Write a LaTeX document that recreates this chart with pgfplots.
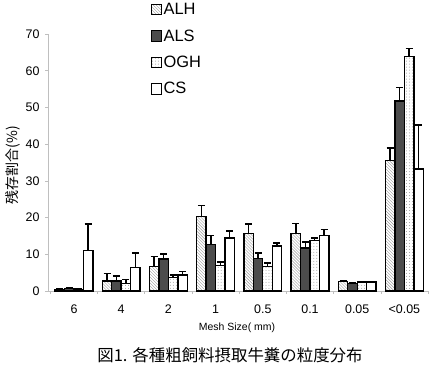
\documentclass[border=0pt]{standalone}
\usepackage{pgfplots}
\pgfplotsset{compat=1.18}
\usepackage{pgfplotstable}
\usepackage{fontspec}
\setmainfont{Liberation Sans}
\newfontfamily\jp{Noto Sans CJK JP}
\usetikzlibrary{patterns}

% x, value, error (upper)
\pgfplotstableread{
x v e
0 0.4 0.1
1 2.7 2.0
2 6.6 2.8
3 20.3 3.0
4 15.6 2.7
5 15.6 2.8
6 2.6 0.3
7 35.6 3.3
}\ALH
\pgfplotstableread{
x v e
0 0.6 0.4
1 2.7 1.4
2 8.7 1.4
3 12.7 2.4
4 8.8 1.5
5 11.7 1.6
6 2.0 0.2
7 51.8 3.6
}\ALS
\pgfplotstableread{
x v e
0 0.4 0.1
1 2.0 1.1
2 3.7 0.7
3 7.0 0.9
4 6.6 1.0
5 13.8 0.7
6 2.4 0.1
7 63.8 2.2
}\OGH
\pgfplotstableread{
x v e
0 11.1 7.2
1 6.4 3.9
2 4.4 0.9
3 14.4 1.9
4 12.3 0.8
5 15.1 1.6
6 2.4 0.1
7 33.2 12.0
}\CS

\begin{document}
\begin{tikzpicture}
\useasboundingbox (-48bp,-75bp) rectangle (398bp,291bp);
\begin{axis}[
  at={(0,0)}, anchor=south west,
  scale only axis,
  width=380bp, height=257bp,
  xmin=-0.55, xmax=7.5,
  ymin=0, ymax=70,
  ytick={0,10,...,70},
  xtick={0,...,7},
  xticklabels={6,4,2,1,0.5,0.1,0.05,<0.05},
  minor xtick={-0.5,0.5,...,7.5},
  axis x line*=bottom,
  axis y line*=left,
  axis line style={gray!50, line width=0.6bp, -},
  x axis line style={-},
  y axis line style={-},
  major x tick style={draw=none},
  minor x tick style={gray!50, line width=0.6bp},
  ytick style={gray!50, line width=0.6bp},
  tick align=outside,
  major tick length=3bp,
  minor tick length=3bp,
  /pgf/number format/assume math mode=true,
  ticklabel style={font=\fontsize{12.5}{12.5}\selectfont},
  xticklabel style={yshift=-7bp},
  yticklabel style={xshift=-2bp},
  ybar,
  bar width=0.2,
  legend cell align=left,
  legend style={draw=none, fill=none, at={(0.27,1.128)}, anchor=north west,
    font=\fontsize{16.5}{16.5}\selectfont, row sep=9.5bp, inner sep=0pt,
    /tikz/every even column/.append style={column sep=2bp}},
  legend image code/.code={\draw[#1,draw=black,line width=0.8bp] (0bp,-5bp) rectangle (10bp,5.5bp);},
  error bars/y dir=plus,
  error bars/y explicit,
  error bars/error bar style={black, line width=1.5bp},
  error bars/error mark options={black, line width=1.5bp, rotate=90, mark size=3.5bp},
  every axis plot/.append style={draw=black, line width=1.4bp},
  clip=false,
]
\addplot[bar shift=-0.3, pattern=north west lines, pattern color=gray!80] table[x=x, y=v, y error=e] {\ALH};
\addlegendentry{ALH}
\addplot[bar shift=-0.1, fill=black!70] table[x=x, y=v, y error=e] {\ALS};
\addlegendentry{ALS}
\addplot[bar shift=0.1, pattern=dots, pattern color=gray!80] table[x=x, y=v, y error=e] {\OGH};
\addlegendentry{OGH}
\addplot[bar shift=0.3, fill=white] table[x=x, y=v, y error=e] {\CS};
\addlegendentry{CS}
\end{axis}
\node[rotate=90, font=\jp\fontsize{14}{14}\selectfont] at (-35bp,126bp) {残存割合(\%)};
\node[font=\fontsize{10.5}{10.5}\selectfont] at (189bp,-37bp) {Mesh Size( mm)};
\node[font=\jp\fontsize{16.5}{16.5}\selectfont] at (182bp,-64bp) {図1. 各種粗飼料摂取牛糞の粒度分布};
\end{tikzpicture}
\end{document}
